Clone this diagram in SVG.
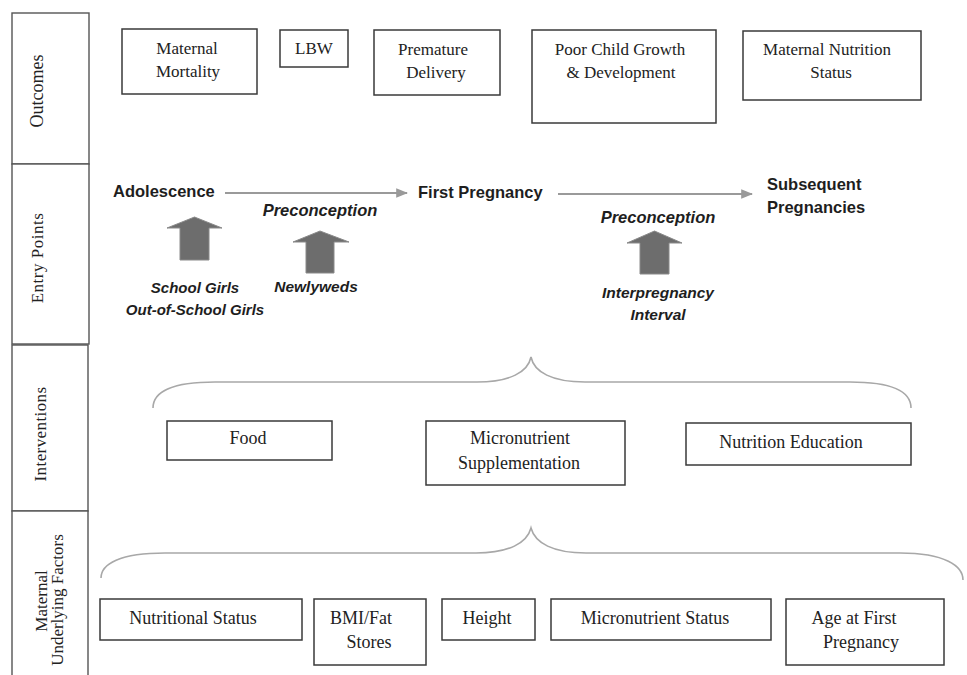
<svg xmlns="http://www.w3.org/2000/svg" width="967" height="675" viewBox="0 0 967 675">
<defs>
<style>
.box{fill:#fff;stroke:#3a3a3a;stroke-width:1.5}
.side{fill:#fff;stroke:#555;stroke-width:1.4}
.serif{font-family:"Liberation Serif","Times New Roman",serif;fill:#222;text-anchor:middle}
.s17{font-size:17px}
.s18{font-size:18px}
.bold{font-family:"Liberation Sans",Arial,sans-serif;font-weight:bold;font-size:16.5px;fill:#1e1e1e}
.bi{font-family:"Liberation Sans",Arial,sans-serif;font-weight:bold;font-style:italic;fill:#1e1e1e;text-anchor:middle}
.flow{stroke:#9a9a9a;stroke-width:2;fill:none}
.brace{stroke:#a8a8a8;stroke-width:1.6;fill:none}
.block{fill:#6d6d6d;stroke:#8a8a8a;stroke-width:1}
</style>
<marker id="ah" viewBox="0 0 10 10" refX="9" refY="5" markerWidth="6" markerHeight="6" orient="auto" markerUnits="strokeWidth">
<path d="M0,1 L10,5 L0,9 Z" fill="#9a9a9a"/>
</marker>
</defs>
<rect width="967" height="675" fill="#fff"/>

<g id="row-labels">
<g id="lbl-outcomes"><rect class="side" x="12" y="13" width="77" height="151"/><text class="serif s18" transform="translate(43,91) rotate(-90)">Outcomes</text></g>
<g id="lbl-entry"><rect class="side" x="12" y="164" width="77" height="180"/><text class="serif s17" letter-spacing="0.5" transform="translate(43,258) rotate(-90)">Entry Points</text></g>
<g id="lbl-interventions"><rect class="side" x="12" y="345" width="76" height="166"/><text class="serif s17" letter-spacing="0.4" transform="translate(46,434) rotate(-90)">Interventions</text></g>
<g id="lbl-maternal"><rect class="side" x="12" y="511" width="76" height="170"/><text class="serif s17" transform="translate(47,601) rotate(-90)">Maternal</text><text class="serif s17" transform="translate(63,600) rotate(-90)">Underlying Factors</text></g>
</g>

<g id="outcomes">
<g id="o-mortality"><rect class="box" x="122" y="29" width="135" height="65"/><text class="serif s17" x="187" y="54">Maternal</text><text class="serif s17" x="188" y="77">Mortality</text></g>
<g id="o-lbw"><rect class="box" x="280" y="30" width="68" height="37"/><text class="serif s17" x="314" y="54">LBW</text></g>
<g id="o-premature"><rect class="box" x="374" y="30" width="126" height="65"/><text class="serif s17" x="433" y="55">Premature</text><text class="serif s17" x="436" y="78">Delivery</text></g>
<g id="o-growth"><rect class="box" x="532" y="30" width="184" height="93"/><text class="serif s17" x="620" y="55">Poor Child Growth</text><text class="serif s17" x="621" y="78">&amp; Development</text></g>
<g id="o-nutrition"><rect class="box" x="743" y="31" width="178" height="69"/><text class="serif s17" x="827" y="55">Maternal Nutrition</text><text class="serif s17" x="831" y="78">Status</text></g>
</g>

<g id="connectors">
<line class="flow" x1="225" y1="193" x2="407" y2="193" marker-end="url(#ah)"/>
<line class="flow" x1="558" y1="194" x2="752" y2="194" marker-end="url(#ah)"/>
<path class="brace" d="M153,408 C153,393 170,382 215,382 L477,382 C510,382 528,372 531,357 C534,372 552,382 585,382 L850,382 C895,382 911,393 911,408"/>
<path class="brace" d="M101,578 C101,564 120,553 165,553 L476,553 C509,553 527,543 531,528 C535,543 553,553 586,553 L900,553 C945,553 963,566 963,580"/>
<polygon class="block" points="194.5,217 222,228 209,228 209,260 180,260 180,228 167,228"/>
<polygon class="block" points="320,231 349,242 334,242 334,273 306,273 306,242 293,242"/>
<polygon class="block" points="654.5,231 682,243 669,243 669,274 640,274 640,243 627,243"/>
</g>

<g id="entry-points">
<g id="e-adolescence"><text class="bold" x="113" y="197">Adolescence</text></g>
<g id="e-first"><text class="bold" x="418" y="198">First Pregnancy</text></g>
<g id="e-subsequent"><text class="bold" x="767" y="190">Subsequent</text><text class="bold" x="767" y="213">Pregnancies</text></g>
<g id="e-precon1"><text class="bi" font-size="16.5" x="320" y="216">Preconception</text></g>
<g id="e-precon2"><text class="bi" font-size="16.5" x="658" y="223">Preconception</text></g>
<g id="e-school"><text class="bi" font-size="15" x="195" y="293">School Girls</text><text class="bi" font-size="15" x="195" y="315">Out-of-School Girls</text></g>
<g id="e-newlyweds"><text class="bi" font-size="15.5" x="316" y="292">Newlyweds</text></g>
<g id="e-interval"><text class="bi" font-size="15.5" x="658" y="298">Interpregnancy</text><text class="bi" font-size="15.5" x="658" y="320">Interval</text></g>
</g>

<g id="interventions">
<g id="i-food"><rect class="box" x="167" y="421" width="165" height="39"/><text class="serif s18" x="248" y="444">Food</text></g>
<g id="i-micro"><rect class="box" x="426" y="421" width="199" height="64"/><text class="serif s18" x="520" y="444">Micronutrient</text><text class="serif s18" x="519" y="469">Supplementation</text></g>
<g id="i-education"><rect class="box" x="686" y="423" width="225" height="42"/><text class="serif s18" x="791" y="448">Nutrition Education</text></g>
</g>

<g id="factors">
<g id="f-status"><rect class="box" x="100" y="599" width="202" height="41"/><text class="serif s18" x="193" y="624">Nutritional Status</text></g>
<g id="f-bmi"><rect class="box" x="314" y="599" width="112" height="66"/><text class="serif s18" x="361" y="624">BMI/Fat</text><text class="serif s18" x="369" y="648">Stores</text></g>
<g id="f-height"><rect class="box" x="442" y="599" width="93" height="41"/><text class="serif s18" x="487" y="624">Height</text></g>
<g id="f-micro"><rect class="box" x="551" y="599" width="220" height="41"/><text class="serif s18" x="655" y="624">Micronutrient Status</text></g>
<g id="f-age"><rect class="box" x="786" y="599" width="158" height="66"/><text class="serif s18" x="854" y="624">Age at First</text><text class="serif s18" x="861" y="648">Pregnancy</text></g>
</g>
</svg>
